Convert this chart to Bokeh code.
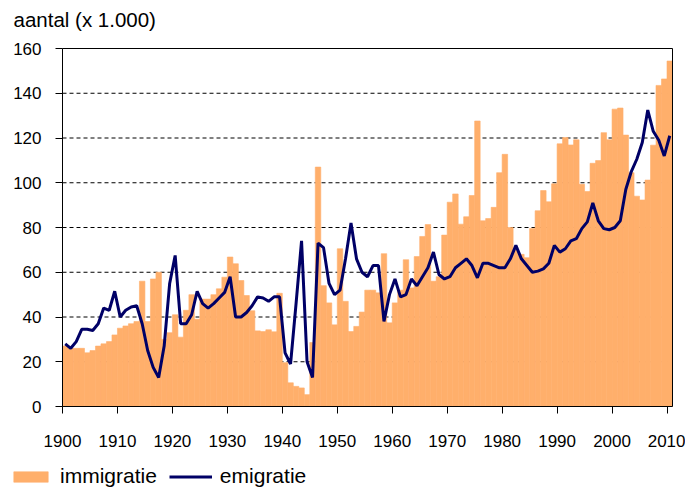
from bokeh.plotting import figure
from bokeh.models import Range1d, FixedTicker, Legend, LegendItem, ColumnDataSource, Label
from bokeh.embed import file_html
from bokeh.resources import INLINE

jaren = list(range(1900, 2011))

immigratie = [
    27, 26, 26, 26, 24, 25, 27, 28, 29, 32,          # 1900-1909
    35, 36, 37, 38, 56, 38, 57, 60, 30, 33,          # 1910-1919
    41, 31, 43, 50, 39, 48, 48, 50, 52.6, 57.8,      # 1920-1929
    66.8, 63.8, 56.3, 49.6, 42.8, 33.8, 33.5, 34.3, 33.4, 50.6,  # 1930-1939
    19.6, 10.6, 9.0, 8.3, 5.3, 28.6, 107, 54, 46.3, 36.5,        # 1940-1949
    70.5, 47, 33.5, 35.8, 42.2, 52, 52, 50.8, 68.3, 37.4,        # 1950-1959
    46.3, 52, 65.6, 53, 67, 76, 81.3, 56, 58, 76.6,              # 1960-1969
    91.3, 95, 81.5, 84.8, 94.3, 127.6, 83, 84, 89, 104.5,        # 1970-1979
    112.7, 80, 70, 68, 66.5, 79.6, 87.5, 96.5, 91.5, 99.5,       # 1980-1989
    117.4, 120.2, 116.9, 119.2, 99.3, 96.1, 108.7, 109.9, 122.4, 119.2,  # 1990-1999
    132.9, 133.4, 121.3, 104.5, 94.0, 92.3, 101.2, 116.8, 143.5, 146.4,  # 2000-2009
    154.4,                                                               # 2010
]

emigratie = [
    28, 26, 29, 34.5, 34.5, 34, 37, 44, 43, 51.5,    # 1900-1909
    40, 43, 44.5, 45, 37, 25, 17.5, 13, 27, 55,      # 1910-1919
    67.5, 37, 37, 41, 51.5, 46, 44, 46, 48.5, 51,    # 1920-1929
    58, 40, 40, 42, 45, 49, 48.5, 47, 49, 49,        # 1930-1939
    24, 19, 46, 74, 20, 13, 73, 71, 55, 50,          # 1940-1949
    52, 66, 82, 66, 60, 58, 63, 63, 38, 50,          # 1950-1959
    57, 49, 50, 57, 54, 58, 62, 69, 59, 57,          # 1960-1969
    58, 62, 64, 66, 63, 57.5, 64, 64, 63, 62,        # 1970-1979
    62, 66, 72, 66, 63, 60, 60.5, 61.5, 64, 72,      # 1980-1989
    69, 70.5, 74, 75, 79.5, 82.5, 91, 83, 79.5, 79,  # 1990-1999
    80, 83, 97, 105, 110.5, 118, 132.5, 123, 119, 112,  # 2000-2009
    121,                                                # 2010
]

y_ticks = [0, 20, 40, 60, 80, 100, 120, 140, 160]
x_ticks = [1900, 1910, 1920, 1930, 1940, 1950, 1960, 1970, 1980, 1990, 2000, 2010]

FONT = "Liberation Sans"
BAR_COLOR = "#FFAF6B"
LINE_COLOR = "#000066"

# canvas geometry (pixels): plot area x=62..672, y=48..406 in a 685x488 canvas
W, H = 685, 488
X0, X1 = 1900, 2011
Y0, Y1 = y_ticks[0], y_ticks[-1]
L, R, T, B = 62, 672, 48, 406
sx = (R - L) / (X1 - X0)
sy = (B - T) / (Y1 - Y0)
x_range = Range1d(X0 - L / sx, X1 + (W - R) / sx)
y_range = Range1d(Y0 - (H - B) / sy, Y1 + T / sy)

src = ColumnDataSource(dict(
    x=[j + 0.5 for j in jaren],
    imm=immigratie,
    emi=emigratie,
))

p = figure(width=W, height=H, output_backend="svg", toolbar_location=None,
           x_range=x_range, y_range=y_range,
           min_border_left=0, min_border_right=0, min_border_top=0, min_border_bottom=0)

p.background_fill_color = "white"
p.border_fill_color = "white"
p.outline_line_color = None
p.xgrid.visible = False
p.ygrid.visible = False

# dashed horizontal gridlines inside the plot area (behind the bars)
grid_vals = y_ticks[1:-1]
p.segment(x0=[X0] * len(grid_vals), x1=[X1] * len(grid_vals), y0=grid_vals, y1=grid_vals,
          line_color="black", line_width=1, line_dash="4 3", level="underlay")

bars = p.vbar(x="x", top="imm", width=1, source=src,
              fill_color=BAR_COLOR, line_color=BAR_COLOR, line_width=0.6)
line = p.line(x="x", y="emi", source=src, line_color=LINE_COLOR, line_width=3)

# plot-area border: top and right edges
p.segment(x0=[X0, X1], x1=[X1, X1], y0=[Y1, Y0], y1=[Y1, Y1],
          line_color="black", line_width=1)

# axes fixed at the plot-area edges
p.yaxis.ticker = FixedTicker(ticks=y_ticks)
p.xaxis.ticker = FixedTicker(ticks=x_ticks)
p.yaxis.fixed_location = X0
p.xaxis.fixed_location = Y0
p.yaxis.bounds = (Y0, Y1)
p.xaxis.bounds = (X0, X1)
for ax in (p.xaxis[0], p.yaxis[0]):
    ax.axis_line_color = "black"
    ax.axis_line_width = 1
    ax.major_tick_line_color = "black"
    ax.major_tick_out = 7
    ax.major_tick_in = 0
    ax.minor_tick_line_color = None
    ax.major_label_text_font = FONT
    ax.major_label_text_font_size = "17px"
    ax.major_label_text_color = "black"
p.yaxis.major_label_standoff = 14
p.xaxis.major_label_standoff = 21

# y-axis title (top-left)
p.add_layout(Label(x=13, y=H - 19, x_units="screen", y_units="screen",
                   text="aantal (x 1.000)", text_font=FONT, text_font_size="20.5px",
                   text_color="black", text_baseline="alphabetic", text_align="left"))

legend = Legend(items=[LegendItem(label="immigratie", renderers=[bars]),
                       LegendItem(label="emigratie", renderers=[line])],
                location=(9, 0), orientation="horizontal",
                glyph_width=43, glyph_height=13, label_standoff=8, spacing=12,
                padding=0, margin=0, border_line_alpha=0, background_fill_alpha=0,
                label_text_font=FONT, label_text_font_size="21px", label_text_color="black")
p.add_layout(legend)

open("out.html", "w").write(file_html(p, INLINE))
